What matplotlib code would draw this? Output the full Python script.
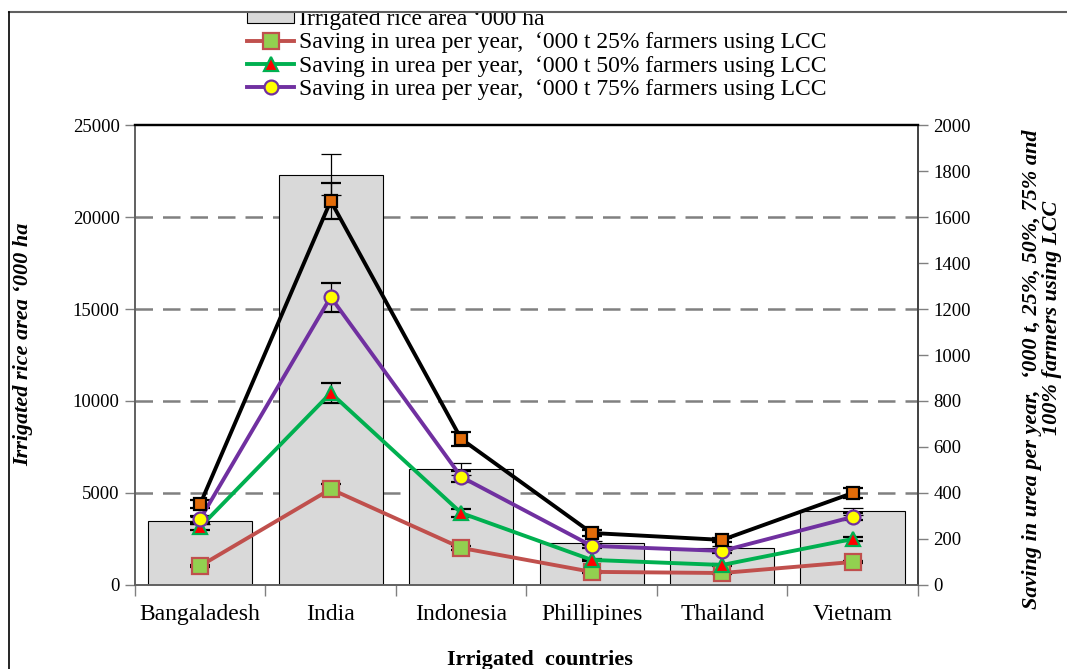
import matplotlib
matplotlib.use("Agg")
import matplotlib.pyplot as plt
import numpy as np
from matplotlib.patches import Rectangle
from matplotlib.lines import Line2D

countries = ["Bangaladesh", "India", "Indonesia", "Phillipines", "Thailand", "Vietnam"]
area = [3500, 22300, 6300, 2300, 2000, 4000]
area_err = [175, 1115, 315, 115, 100, 200]

save25 = [83, 417, 161, 57, 52, 100]
save50 = [252, 835, 313, 109, 87, 200]
save75 = [287, 1252, 470, 170, 148, 296]
save100 = [352, 1670, 635, 226, 196, 400]
err25 = [4, 21, 8, 3, 3, 5]
err50 = [13, 42, 16, 5, 4, 10]
err75 = [14, 63, 24, 9, 7, 15]
err100 = [18, 80, 32, 11, 10, 20]

labels = ["Irrigated rice area \u2018000 ha",
          "Saving in urea per year,  \u2018000 t 25% farmers using LCC",
          "Saving in urea per year,  \u2018000 t 50% farmers using LCC",
          "Saving in urea per year,  \u2018000 t 75% farmers using LCC"]

plt.rcParams['font.family'] = ['Liberation Serif', 'DejaVu Serif']

fig = plt.figure(figsize=(10.67, 6.69), dpi=100)
ax = fig.add_axes([0.1265, 0.1256, 0.7338, 0.6875])
ax2 = ax.twinx()

x = np.arange(len(countries))

# dashed grid behind the bars (not at the top)
for g in range(5000, 25000, 5000):
    ax.axhline(g, color='#808080', linestyle=(0, (7, 4)), linewidth=1.8, zorder=0)
ax.bar(x, area, width=0.8, color='#D9D9D9', edgecolor='black', linewidth=0.8, zorder=2,
       yerr=area_err, error_kw=dict(ecolor='black', elinewidth=0.9, capsize=7, capthick=0.9))
ax.set_ylim(0, 25000)
ax.set_yticks(range(0, 25001, 5000))
ax.set_xlim(-0.5, len(countries) - 0.5)
ax.set_xticks(x)
ax.set_xticklabels(countries, fontsize=17)
ax.set_xticks(np.arange(-0.5, len(countries), 1), minor=True)
ax.tick_params(axis='x', which='major', length=0, pad=14)
ax.tick_params(axis='x', which='minor', length=8, width=1, color='#808080')
ax.tick_params(axis='y', labelsize=13.5, length=7, width=1, color='#808080', pad=4)

# lines on the right axis
series = [
    (save25, err25, '#C0504D', 's', '#92D050', 11),
    (save50, err50, '#00B050', '^', '#FF0000', 10),
    (save75, err75, '#7030A0', 'o', '#FFFF00', 10),
    (save100, err100, 'black', 's', '#E36C09', 8.5),
]
for vals, errs, col, mk, fc, ms in series:
    ax2.errorbar(x, vals, yerr=errs, color=col, linewidth=2.8, marker=mk, markersize=ms,
                 markerfacecolor=fc, markeredgecolor=col, markeredgewidth=1.6,
                 ecolor='black', elinewidth=0.9, capsize=7, capthick=0.9)
ax2.set_ylim(0, 2000)
ax2.set_yticks(range(0, 2001, 200))
ax2.tick_params(axis='y', labelsize=13.5, length=7, width=1, color='#808080', pad=4)

for a in (ax, ax2):
    a.spines['left'].set_color('#606060')
    a.spines['bottom'].set_color('#606060')
    a.spines['right'].set_color('#404040')
    a.spines['top'].set_color('black')
    a.spines['top'].set_linewidth(1.6)
    a.spines['left'].set_linewidth(1.2)
    a.spines['right'].set_linewidth(1.2)
    a.spines['bottom'].set_linewidth(1.2)

# axis titles
fig.text(0.5065, 0.014, "Irrigated  countries", ha='center', va='center',
         fontsize=16, fontweight='bold')
fig.text(0.022, 1 - 344 / 669, "Irrigated rice area \u2018000 ha", rotation=90,
         ha='center', va='center', fontsize=16, fontweight='bold', fontstyle='italic')
fig.text(1032 / 1067, 1 - 369 / 669, "Saving in urea per year,  \u2018000 t, 25%, 50%, 75% and",
         rotation=90, ha='center', va='center', fontsize=16, fontweight='bold', fontstyle='italic')
fig.text(1052 / 1067, 1 - 318 / 669, "100% farmers using LCC",
         rotation=90, ha='center', va='center', fontsize=16, fontweight='bold', fontstyle='italic')

# legend
handles = [Rectangle((0, 0), 1, 1, facecolor='#D9D9D9', edgecolor='black', linewidth=0.8)]
for vals, errs, col, mk, fc, ms in series[:3]:
    handles.append(Line2D([], [], color=col, linewidth=2.8, marker=mk, markersize=ms,
                          markerfacecolor=fc, markeredgecolor=col, markeredgewidth=1.6))
fig.legend(handles, labels, loc='upper center', bbox_to_anchor=(0.503, 1 + 3 / 669),
           frameon=False, fontsize=17, labelspacing=0.1, handlelength=2.0,
           handletextpad=0.2, borderpad=0, handleheight=0.5)

# outer frame, cropped at the top
fig.patches.append(Rectangle((0, 1 - 12 / 669), 1, 12 / 669, transform=fig.transFigure,
                             facecolor='white', edgecolor='none', zorder=20))
fig.add_artist(Line2D([9 / 1067, 1], [1 - 12 / 669, 1 - 12 / 669], color='#606060',
                      linewidth=1.5, transform=fig.transFigure, zorder=21))
fig.add_artist(Line2D([9 / 1067, 9 / 1067], [0, 1 - 12 / 669], color='black',
                      linewidth=1.2, transform=fig.transFigure, zorder=21))

fig.savefig("out.png", dpi=100)
